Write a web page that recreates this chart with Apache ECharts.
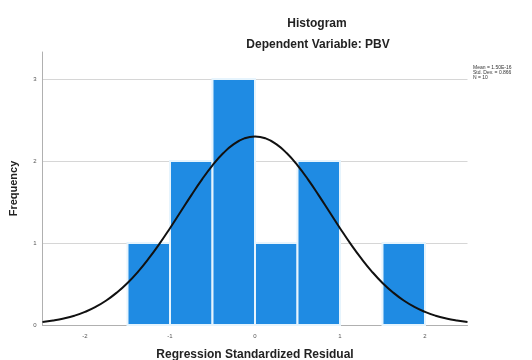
<!DOCTYPE html>
<html>
<head>
<meta charset="utf-8">
<script src="https://cdn.jsdelivr.net/npm/echarts@6/dist/echarts.min.js"></script>
<style>
  html, body { margin: 0; padding: 0; background: #fff; }
  #chart { width: 532px; height: 360px; }
</style>
</head>
<body>
<div id="chart"></div>
<script>
// histogram bins (lower edge, upper edge) and counts
const binStart = [-1.5, -1.0, -0.5, 0.0, 0.5, 1.5]
const binEnd = [-1.0, -0.5, 0.0, 0.5, 1.0, 2.0]
const counts = [1, 2, 3, 1, 2, 1]

// normal curve
const curveX = [-2.5, -2.375, -2.25, -2.125, -2.0, -1.875, -1.75, -1.625, -1.5, -1.375, -1.25, -1.125, -1.0, -0.875, -0.75, -0.625, -0.5, -0.375, -0.25, -0.125,
  0, 0.125, 0.25, 0.375, 0.5, 0.625, 0.75, 0.875, 1.0, 1.125, 1.25, 1.375, 1.5, 1.625, 1.75, 1.875, 2.0, 2.125, 2.25, 2.375, 2.5]
const curveY = [0.036, 0.054, 0.079, 0.113, 0.16, 0.221, 0.299, 0.396, 0.513, 0.652, 0.812, 0.989, 1.181, 1.381, 1.581, 1.773, 1.947, 2.094, 2.206, 2.276,
  2.30, 2.276, 2.206, 2.094, 1.947, 1.773, 1.581, 1.381, 1.181, 0.989, 0.812, 0.652, 0.513, 0.396, 0.299, 0.221, 0.16, 0.113, 0.079, 0.054, 0.036]

const xTicks = [-2, -1, 0, 1, 2]
const statsLines = ['Mean = 1.50E-16', 'Std. Dev. = 0.866', 'N = 10']

const chart = echarts.init(document.getElementById('chart'))

const barData = binStart.map((s, i) => [s, binEnd[i], counts[i]])
const curveData = curveX.map((x, i) => [x, curveY[i]])

const labelFont = { fontFamily: 'Liberation Sans', fontSize: 12, fontWeight: 'bold', color: '#222' }

chart.setOption({
  animation: false,
  title: [
    {
      text: 'Histogram',
      left: 312,
      top: 13,
      textAlign: 'center',
      textStyle: labelFont
    },
    {
      text: 'Dependent Variable: PBV',
      left: 313,
      top: 34,
      textAlign: 'center',
      textStyle: labelFont
    }
  ],
  graphic: [{
    type: 'text',
    left: 473,
    top: 65,
    style: {
      text: statsLines.join('\n'),
      font: '5px Liberation Sans',
      fill: '#333',
      lineHeight: 5
    }
  }],
  grid: { left: 42.5, right: 64.5, top: 52, bottom: 35, outerBoundsMode: 'none' },
  xAxis: {
    type: 'value',
    min: -2.5,
    max: 2.5,
    name: 'Regression Standardized Residual',
    nameLocation: 'middle',
    nameGap: 24,
    nameTextStyle: labelFont,
    axisLine: { lineStyle: { color: '#b0b0b0' } },
    axisTick: { show: false, customValues: xTicks },
    axisLabel: { customValues: xTicks, fontFamily: 'Liberation Sans', fontSize: 6, color: '#555', margin: 8 },
    splitLine: { show: false }
  },
  yAxis: {
    type: 'value',
    min: 0,
    max: 3.33,
    interval: 1,
    name: 'Frequency',
    nameLocation: 'middle',
    nameGap: 23,
    nameTextStyle: Object.assign({}, labelFont, { fontSize: 11 }),
    axisLine: { show: true, onZero: false, lineStyle: { color: '#b0b0b0' } },
    axisTick: { show: false },
    axisLabel: { fontFamily: 'Liberation Sans', fontSize: 6, color: '#555', margin: 6, showMaxLabel: false },
    splitLine: { showMaxLine: false, lineStyle: { color: '#d6d6d6' } }
  },
  series: [
    {
      type: 'custom',
      data: barData,
      encode: { x: [0, 1], y: 2 },
      renderItem: (params, api) => {
        const p0 = api.coord([api.value(0), api.value(2)])
        const p1 = api.coord([api.value(1), 0])
        return {
          type: 'rect',
          shape: { x: p0[0], y: p0[1], width: p1[0] - p0[0], height: p1[1] - p0[1] },
          style: { fill: '#1f8be3', stroke: '#e6f4fd', lineWidth: 2 }
        }
      }
    },
    {
      type: 'line',
      data: curveData,
      smooth: true,
      symbol: 'none',
      z: 5,
      lineStyle: { color: '#111', width: 2 }
    }
  ]
})
</script>
</body>
</html>
